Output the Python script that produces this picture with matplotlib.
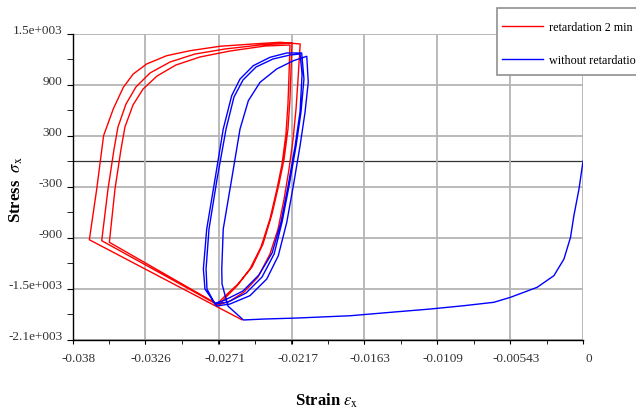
import matplotlib
matplotlib.use('Agg')
import matplotlib.pyplot as plt
import matplotlib.transforms as mtransforms
from matplotlib.patches import Rectangle
from matplotlib.ticker import MultipleLocator

plt.rcParams['font.family'] = ['Liberation Serif', 'DejaVu Serif']
plt.rcParams['mathtext.fontset'] = 'stix'
plt.rcParams['axes.unicode_minus'] = False

# ticks
x_ticks = [-0.038, -0.0326, -0.0271, -0.0217, -0.0163, -0.0109, -0.00543, 0]
x_labels = ['-0.038', '-0.0326', '-0.0271', '-0.0217', '-0.0163', '-0.0109', '-0.00543', '0']
y_ticks = [-2100, -1500, -900, -300, 300, 900, 1500]
y_labels = ['-2.1e+003', '-1.5e+003', '-900', '-300', '300', '900', '1.5e+003']

# retardation 2 min (red)
red_x = [-0.02541, -0.03676,
         -0.03621, -0.03570, -0.03498, -0.03423, -0.03349, -0.03249, -0.03100, -0.02926, -0.02703, -0.02455, -0.02256, -0.02106,
         -0.02122, -0.02137, -0.02159, -0.02189, -0.02226, -0.02271, -0.02331, -0.02420, -0.02524, -0.02629, -0.02718,
         -0.03584,
         -0.03537, -0.03492, -0.03463, -0.03403, -0.03329, -0.03224, -0.03075, -0.02889, -0.02666, -0.02405, -0.02167,
         -0.02174, -0.02182, -0.02197, -0.02226, -0.02264, -0.02316, -0.02383, -0.02465, -0.02569, -0.02666, -0.02725,
         -0.03527,
         -0.03485, -0.03440, -0.03411, -0.03351, -0.03276, -0.03172, -0.03031, -0.02852, -0.02629, -0.02368, -0.02182,
         -0.02189, -0.02197, -0.02212, -0.02241, -0.02279, -0.02331, -0.02398, -0.02480, -0.02577, -0.02658, -0.02703]
red_y = [-1865, -924,
         -327, 300, 614, 869, 1026, 1144, 1241, 1300, 1352, 1379, 1399, 1379,
         967, 614, 261, -92, -445, -798, -1092, -1362, -1539, -1645, -1692,
         -935,
         -327, 143, 402, 673, 873, 1038, 1167, 1261, 1320, 1367, 1391,
         1085, 732, 379, 26, -268, -621, -974, -1245, -1445, -1586, -1680,
         -954,
         -327, 143, 402, 661, 849, 1002, 1132, 1226, 1296, 1355, 1367,
         1026, 673, 320, -33, -327, -680, -1010, -1268, -1468, -1598, -1680]

# without retardation (blue)
blue_x = [0.0, -0.00030, -0.00068, -0.00093, -0.00142, -0.00217, -0.00342, -0.00540, -0.00664, -0.00888,
          -0.01137, -0.01435, -0.01733, -0.02131, -0.02380, -0.02529,
          -0.02644, -0.02688, -0.02690, -0.02679, -0.02616, -0.02554, -0.02492, -0.02405, -0.02281, -0.02157, -0.02057,
          -0.02046, -0.02070, -0.02107, -0.02157, -0.02206, -0.02269, -0.02355, -0.02480, -0.02629, -0.02728,
          -0.02815, -0.02827, -0.02802, -0.02740, -0.02679, -0.02616, -0.02554, -0.02455, -0.02331, -0.02206, -0.02095,
          -0.02078, -0.02100, -0.02137, -0.02189, -0.02241, -0.02300, -0.02390, -0.02509, -0.02644, -0.02741,
          -0.02800, -0.02807, -0.02785, -0.02725, -0.02658, -0.02599, -0.02532, -0.02435, -0.02309, -0.02182, -0.02107,
          -0.02092, -0.02107, -0.02144, -0.02196, -0.02249, -0.02315, -0.02413, -0.02532, -0.02666, -0.02733]
blue_y = [0, -327, -641, -895, -1151, -1347, -1484, -1601, -1660, -1700,
          -1739, -1778, -1818, -1845, -1857, -1868,
          -1704, -1445, -1268, -798, -209, 379, 712, 928, 1085, 1182, 1234,
          928, 575, 182, -288, -719, -1112, -1386, -1582, -1680, -1704,
          -1504, -1268, -798, -209, 379, 771, 967, 1124, 1222, 1273, 1273,
          967, 579, 179, -291, -715, -1091, -1362, -1551, -1657, -1680,
          -1504, -1268, -798, -209, 379, 755, 955, 1108, 1202, 1249, 1261,
          1026, 579, 179, -291, -715, -1079, -1338, -1527, -1633, -1668]

fig = plt.figure(figsize=(6.36, 4.10), dpi=100)
ax = fig.add_axes([0.1143, 0.169, 0.8024, 0.7464])

l1, = ax.plot(red_x, red_y, color='#ff0000', lw=1.0, zorder=3)
l2, = ax.plot(blue_x, blue_y, color='#0000ff', lw=1.0, zorder=4)

ax.set_xlim(-0.038, 0)
ax.set_ylim(-2100, 1500)
ax.set_xticks(x_ticks)
ax.set_xticklabels(x_labels)
ax.set_yticks(y_ticks)
ax.set_yticklabels(y_labels)
ax.xaxis.set_minor_locator(MultipleLocator(0.002715))
ax.yaxis.set_minor_locator(MultipleLocator(300))

ax.grid(True, which='major', color='#b4b4b4', lw=1.3, zorder=0)
ax.axhline(0, color='#333333', lw=0.9, zorder=1)

for s in ['top', 'right']:
    ax.spines[s].set_visible(False)
for s in ['left', 'bottom']:
    ax.spines[s].set_color('black')
    ax.spines[s].set_linewidth(1.0)

ax.tick_params(axis='both', which='both', direction='out', colors='black', labelcolor='#333333', labelsize=9.5)
ax.tick_params(axis='y', which='both', length=4.5, pad=3)
ax.tick_params(axis='x', which='both', length=3)

# label offsets like the original
up = mtransforms.ScaledTranslation(0, 5 / 100, fig.dpi_scale_trans)
for lab in ax.get_yticklabels():
    lab.set_transform(lab.get_transform() + up)
right = mtransforms.ScaledTranslation(6 / 100, -3 / 100, fig.dpi_scale_trans)
for lab in ax.get_xticklabels():
    lab.set_transform(lab.get_transform() + right)

fig.text(0.026, 0.537, r'Stress  $\sigma_{\rm x}$', rotation=90, fontsize=12, fontweight='bold',
         ha='center', va='center')
fig.text(0.514, 0.022, r'Strain $\varepsilon_{\rm x}$', fontsize=12, fontweight='bold',
         ha='center', va='center')

# legend box (runs off the right edge as in the original)
box = Rectangle((497 / 636, 1 - 76 / 410), 150 / 636, 67 / 410, transform=fig.transFigure,
                facecolor='white', edgecolor='#909090', lw=1.2, zorder=5)
fig.patches.append(box)
leg = fig.legend([l1, l2], ['retardation 2 min', 'without retardation'],
                 loc='upper left', bbox_to_anchor=(502 / 636, 1 - 22 / 410), bbox_transform=fig.transFigure,
                 borderaxespad=0, borderpad=0, frameon=False, fontsize=8.7,
                 handlelength=3.4, handletextpad=0.45, labelspacing=1.75)
leg.set_zorder(6)

fig.savefig('out.png', dpi=100)
